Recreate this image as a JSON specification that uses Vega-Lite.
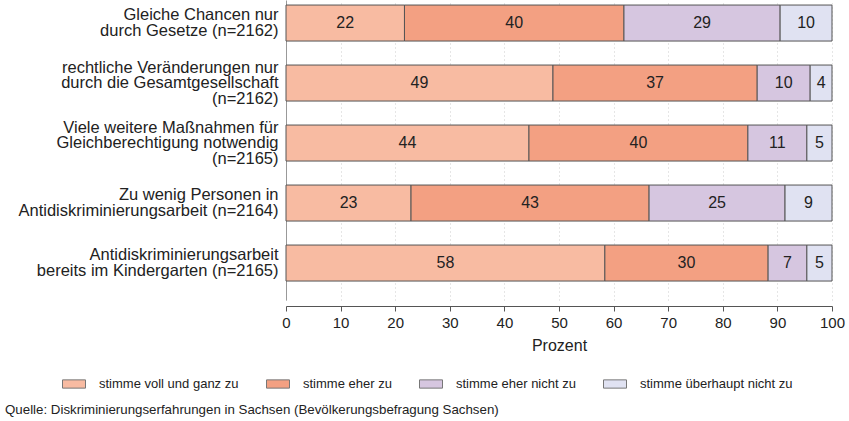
{
  "$schema": "https://vega.github.io/schema/vega-lite/v6.json",
  "width": 546,
  "height": 300,
  "autosize": {"type": "none"},
  "padding": {"left": 286, "top": 0, "right": 17, "bottom": 121},
  "config": {"font": "Liberation Sans", "view": {"stroke": null}},
  "title": {
    "text": "Quelle: Diskriminierungserfahrungen in Sachsen (Bevölkerungsbefragung Sachsen)",
    "orient": "bottom", "anchor": "start", "frame": "group", "dx": -281, "offset": 12,
    "fontSize": 13.3, "fontWeight": "normal", "color": "#222"
  },
  "data": {"values": [
    {"item": "Gleiche Chancen nur|durch Gesetze (n=2162)", "cat": "stimme voll und ganz zu", "k": 1, "value": 21.7, "label": "22"},
    {"item": "Gleiche Chancen nur|durch Gesetze (n=2162)", "cat": "stimme eher zu", "k": 2, "value": 40.2, "label": "40"},
    {"item": "Gleiche Chancen nur|durch Gesetze (n=2162)", "cat": "stimme eher nicht zu", "k": 3, "value": 28.6, "label": "29"},
    {"item": "Gleiche Chancen nur|durch Gesetze (n=2162)", "cat": "stimme überhaupt nicht zu", "k": 4, "value": 9.5, "label": "10"},
    {"item": "rechtliche Veränderungen nur|durch die Gesamtgesellschaft|(n=2162)", "cat": "stimme voll und ganz zu", "k": 1, "value": 48.9, "label": "49"},
    {"item": "rechtliche Veränderungen nur|durch die Gesamtgesellschaft|(n=2162)", "cat": "stimme eher zu", "k": 2, "value": 37.4, "label": "37"},
    {"item": "rechtliche Veränderungen nur|durch die Gesamtgesellschaft|(n=2162)", "cat": "stimme eher nicht zu", "k": 3, "value": 9.7, "label": "10"},
    {"item": "rechtliche Veränderungen nur|durch die Gesamtgesellschaft|(n=2162)", "cat": "stimme überhaupt nicht zu", "k": 4, "value": 4.0, "label": "4"},
    {"item": "Viele weitere Maßnahmen für|Gleichberechtigung notwendig|(n=2165)", "cat": "stimme voll und ganz zu", "k": 1, "value": 44.5, "label": "44"},
    {"item": "Viele weitere Maßnahmen für|Gleichberechtigung notwendig|(n=2165)", "cat": "stimme eher zu", "k": 2, "value": 40.1, "label": "40"},
    {"item": "Viele weitere Maßnahmen für|Gleichberechtigung notwendig|(n=2165)", "cat": "stimme eher nicht zu", "k": 3, "value": 10.8, "label": "11"},
    {"item": "Viele weitere Maßnahmen für|Gleichberechtigung notwendig|(n=2165)", "cat": "stimme überhaupt nicht zu", "k": 4, "value": 4.6, "label": "5"},
    {"item": "Zu wenig Personen in|Antidiskriminierungsarbeit (n=2164)", "cat": "stimme voll und ganz zu", "k": 1, "value": 22.9, "label": "23"},
    {"item": "Zu wenig Personen in|Antidiskriminierungsarbeit (n=2164)", "cat": "stimme eher zu", "k": 2, "value": 43.6, "label": "43"},
    {"item": "Zu wenig Personen in|Antidiskriminierungsarbeit (n=2164)", "cat": "stimme eher nicht zu", "k": 3, "value": 24.9, "label": "25"},
    {"item": "Zu wenig Personen in|Antidiskriminierungsarbeit (n=2164)", "cat": "stimme überhaupt nicht zu", "k": 4, "value": 8.6, "label": "9"},
    {"item": "Antidiskriminierungsarbeit|bereits im Kindergarten (n=2165)", "cat": "stimme voll und ganz zu", "k": 1, "value": 58.4, "label": "58"},
    {"item": "Antidiskriminierungsarbeit|bereits im Kindergarten (n=2165)", "cat": "stimme eher zu", "k": 2, "value": 29.9, "label": "30"},
    {"item": "Antidiskriminierungsarbeit|bereits im Kindergarten (n=2165)", "cat": "stimme eher nicht zu", "k": 3, "value": 7.1, "label": "7"},
    {"item": "Antidiskriminierungsarbeit|bereits im Kindergarten (n=2165)", "cat": "stimme überhaupt nicht zu", "k": 4, "value": 4.6, "label": "5"}
  ]},
  "encoding": {
    "y": {
      "field": "item", "type": "nominal", "sort": null,
      "scale": {"paddingInner": 0.4, "paddingOuter": 0.2, "align": 0.21},
      "axis": {
        "title": null, "ticks": false, "labelPadding": 8, "labelFontSize": 16.5, "labelColor": "#222",
        "labelLineHeight": 15.5, "labelExpr": "split(datum.label, '|')", "labelLimit": 400,
        "labelOffset": {"expr": "-(length(split(datum.label, '|')) - 1) * 7.75"},
        "domainColor": "#999", "grid": false
      }
    },
    "x": {
      "field": "value", "type": "quantitative", "stack": "zero",
      "scale": {"domain": [0, 100], "nice": false},
      "axis": {
        "title": "Prozent", "titleFontSize": 16, "titleFontWeight": "normal", "titleColor": "#222", "titlePadding": 7,
        "values": [0, 10, 20, 30, 40, 50, 60, 70, 80, 90, 100],
        "labelFontSize": 15, "labelColor": "#222", "labelPadding": 4, "labelFlush": false,
        "offset": 6, "domainColor": "#555", "tickColor": "#555", "tickSize": 5,
        "grid": true, "gridColor": "#ccc", "gridDash": [1, 3]
      }
    },
    "order": {"field": "k", "type": "quantitative"}
  },
  "layer": [
    {
      "mark": {"type": "bar", "stroke": "#555", "strokeWidth": 1},
      "encoding": {
        "color": {
          "field": "cat", "type": "nominal",
          "scale": {
            "domain": ["stimme voll und ganz zu", "stimme eher zu", "stimme eher nicht zu", "stimme überhaupt nicht zu"],
            "range": ["#F8BBA2", "#F3A082", "#D6C6E0", "#E0E2F2"]
          },
          "legend": {
            "title": null, "orient": "none", "direction": "horizontal", "legendX": -224, "legendY": 372,
            "symbolType": "M-1,-0.36H1V0.36H-1Z", "symbolSize": 529, "symbolStrokeColor": "#777", "symbolStrokeWidth": 1,
            "symbolOpacity": 1, "labelFontSize": 13, "labelColor": "#222", "labelOffset": 13, "columnPadding": 25,
            "labelLimit": 300
          }
        }
      }
    },
    {
      "mark": {"type": "text", "fontSize": 16, "color": "#222"},
      "encoding": {
        "x": {"field": "value", "type": "quantitative", "stack": "zero", "bandPosition": 0.5},
        "text": {"field": "label", "type": "nominal"}
      }
    }
  ]
}
